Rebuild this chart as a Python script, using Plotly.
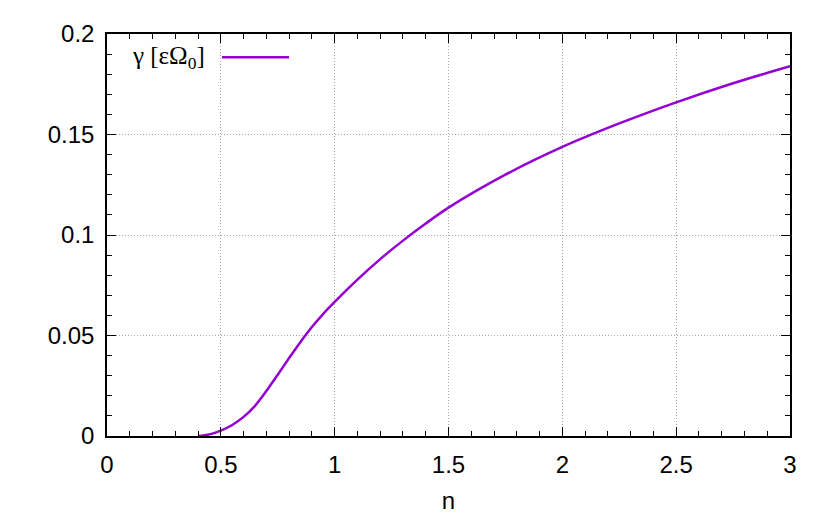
import plotly.graph_objects as go

# growth rate gamma vs n
n_vals = [0.40, 0.45, 0.50, 0.55, 0.60, 0.65, 0.70, 0.75, 0.80, 0.85, 0.90, 0.95,
          1.00, 1.10, 1.20, 1.30, 1.40, 1.50, 1.75, 2.00, 2.25, 2.50, 2.75, 3.00]
gamma_vals = [0.0, 0.0008, 0.0027, 0.0055, 0.0095, 0.0150, 0.0224, 0.0305, 0.0388, 0.0468,
              0.0542, 0.0608, 0.0667, 0.0778, 0.0880, 0.0972, 0.1057, 0.1136, 0.1300,
              0.1438, 0.1555, 0.1660, 0.1755, 0.1840]

legend_label = "γ [εΩ<sub>0</sub>]"
line_color = "#9400d3"
sans = "Liberation Sans, Arial"

fig = go.Figure()
fig.add_trace(go.Scatter(x=n_vals, y=gamma_vals, mode="lines",
                         line=dict(color=line_color, width=2.5, shape="spline", smoothing=0.8),
                         showlegend=False))

axis_common = dict(
    showline=True, linecolor="black", linewidth=1.5, mirror="allticks",
    ticks="inside", ticklen=9, tickcolor="black", tickwidth=1,
    showgrid=True, gridcolor="#a8a8a8", griddash="1px,2px", gridwidth=1,
    zeroline=False, ticklabelstandoff=6,
    tickfont=dict(family=sans, size=24, color="black"),
)

fig.update_xaxes(range=[0, 3], dtick=0.5, tick0=0,
                 minor=dict(dtick=0.1, ticks="inside", ticklen=5, tickcolor="black", showgrid=False),
                 title=dict(text="n", font=dict(family=sans, size=24, color="black"), standoff=16),
                 **axis_common)
fig.update_yaxes(range=[0, 0.2], dtick=0.05, tick0=0,
                 minor=dict(dtick=0.01, ticks="inside", ticklen=5, tickcolor="black", showgrid=False),
                 **axis_common)

# gnuplot-style key: label then line sample
fig.add_annotation(x=0.1464, y=0.942, xref="paper", yref="paper", text=legend_label, showarrow=False,
                   xanchor="right", yanchor="middle",
                   font=dict(family="Liberation Serif, Times New Roman", size=25, color="black"))
fig.add_shape(type="line", xref="paper", yref="paper", x0=0.1684, x1=0.2665, y0=0.942, y1=0.942,
              line=dict(color=line_color, width=2.5))

# page body has an 8px margin, so shift the plot area up/left to line up with the reference
fig.update_layout(
    width=830, height=514,
    margin=dict(l=99, r=48, t=16, b=85),
    plot_bgcolor="white", paper_bgcolor="white",
)

fig.write_html("out.html")
